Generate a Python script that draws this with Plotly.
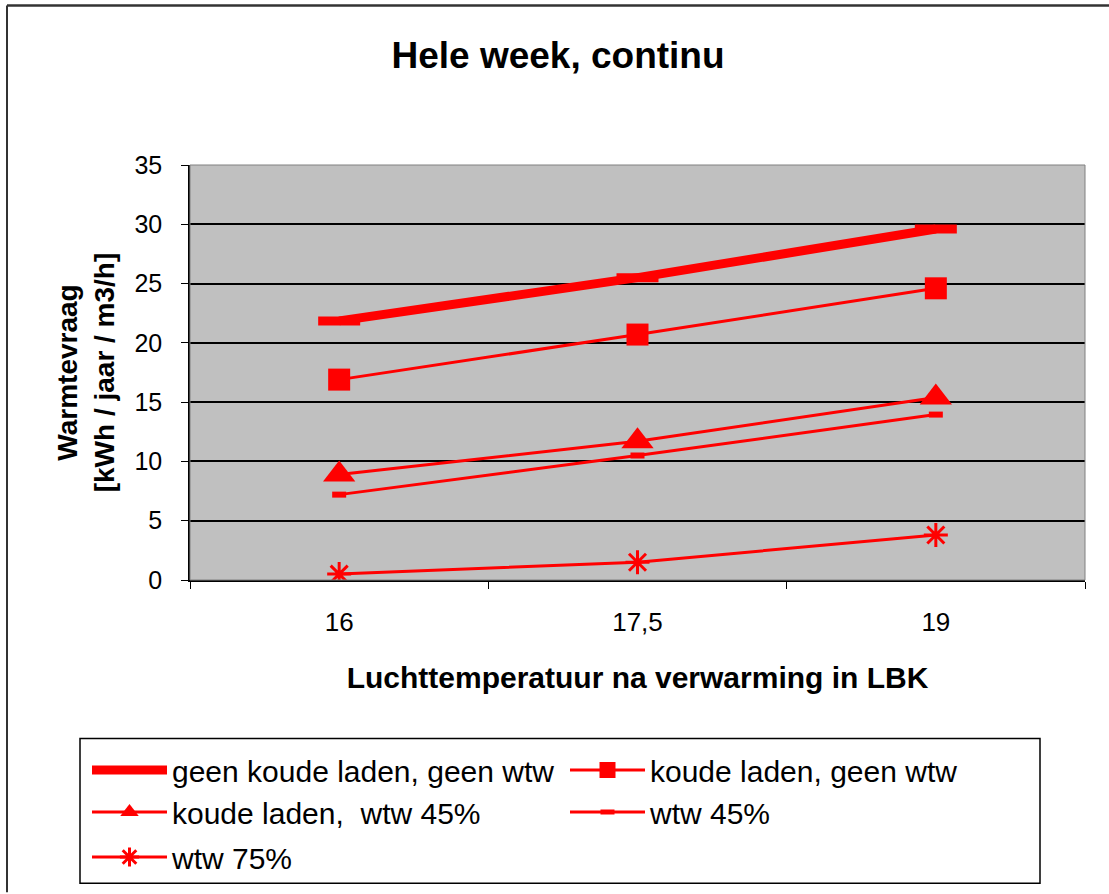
import plotly.graph_objects as go

categories = ["16", "17,5", "19"]
geen_koude_geen_wtw = [21.85, 25.5, 29.6]
koude_geen_wtw = [16.9, 20.7, 24.6]
koude_wtw45 = [8.9, 11.7, 15.4]
wtw45 = [7.2, 10.5, 13.95]
wtw75 = [0.5, 1.5, 3.8]
y_ticks = [0, 5, 10, 15, 20, 25, 30, 35]

FONT = "Liberation Sans, Arial, sans-serif"
RED = "#FF0000"
W, H = 1109, 894
L, R, T, B = 190, 1085, 165, 581  # plot area in px


def px_x(x):
    return (x - L) / (R - L)


def px_y(y):
    return (B - y) / (B - T)


fig = go.Figure()
fig.add_trace(go.Scatter(x=categories, y=geen_koude_geen_wtw, name="geen koude laden, geen wtw",
                         legend="legend", mode="lines+markers", line=dict(color=RED, width=9),
                         marker=dict(symbol="line-ew", size=30, color=RED, line=dict(color=RED, width=9))))
fig.add_trace(go.Scatter(x=categories, y=koude_geen_wtw, name="koude laden, geen wtw",
                         legend="legend", mode="lines+markers", line=dict(color=RED, width=3),
                         marker=dict(symbol="square", size=22, color=RED)))
fig.add_trace(go.Scatter(x=categories, y=koude_wtw45, name="koude laden,  wtw 45%",
                         legend="legend2", mode="lines+markers", line=dict(color=RED, width=3),
                         marker=dict(symbol="triangle-up", size=28, color=RED)))
fig.add_trace(go.Scatter(x=categories, y=wtw45, name="wtw 45%",
                         legend="legend2", mode="lines+markers", line=dict(color=RED, width=3),
                         marker=dict(symbol="line-ew", size=10, color=RED, line=dict(color=RED, width=6))))
fig.add_trace(go.Scatter(x=categories, y=wtw75, name="wtw 75%",
                         legend="legend3", mode="lines+markers", line=dict(color=RED, width=3),
                         marker=dict(symbol="asterisk-open", size=20, color=RED, line=dict(color=RED, width=3))))

leg_common = dict(orientation="h", x=px_x(87), xanchor="left",
                  yanchor="middle", entrywidth=388, entrywidthmode="pixels", itemwidth=75,
                  borderwidth=0, bgcolor="rgba(0,0,0,0)", font=dict(size=30, family=FONT, color="black"))

fig.update_layout(
    width=W, height=H,
    margin=dict(l=L, r=W - R, t=T, b=H - B),
    paper_bgcolor="white", plot_bgcolor="#C0C0C0",
    font=dict(family=FONT, color="black", size=26),
    title=dict(text="<b>Hele week, continu</b>", x=558 / W, xanchor="center", xref="container",
               y=1 - 55 / H, yanchor="middle", yref="container", font=dict(size=37, family=FONT)),
    showlegend=True,
    legend=dict(leg_common, y=px_y(770)),
    legend2=dict(leg_common, y=px_y(812)),
    legend3=dict(leg_common, y=px_y(857)),
    xaxis=dict(type="category", range=[-0.5, 2.5], showgrid=False, zeroline=False,
               showline=True, linecolor="black", linewidth=1.5,
               ticks="outside", tickson="boundaries", ticklen=7, tickcolor="black",
               ticklabelstandoff=18, tickfont=dict(size=26),
               title=dict(text="<b>Luchttemperatuur na verwarming in LBK</b>", standoff=31,
                          font=dict(size=30))),
    yaxis=dict(range=[0, 35], tickvals=y_ticks, showgrid=True, gridcolor="black", gridwidth=2,
               zeroline=False, showline=True, linecolor="black", linewidth=1.5,
               ticks="outside", ticklen=7, tickcolor="black", ticklabelstandoff=14,
               tickfont=dict(size=25),
               title=dict(text="<b>Warmtevraag<br>[kWh / jaar / m3/h]</b>", standoff=12,
                          font=dict(size=28))),
    shapes=[
        dict(type="rect", xref="paper", yref="paper", x0=0, x1=1, y0=0, y1=1,
             line=dict(color="#808080", width=1)),
        dict(type="rect", xref="paper", yref="paper",
             x0=px_x(80), x1=px_x(1040), y0=px_y(885), y1=px_y(740),
             line=dict(color="black", width=1.5)),
        dict(type="line", xref="paper", yref="paper",
             x0=px_x(7), x1=px_x(1109), y0=px_y(5), y1=px_y(5),
             line=dict(color="#333333", width=2.5)),
        dict(type="line", xref="paper", yref="paper",
             x0=px_x(7), x1=px_x(7), y0=px_y(5), y1=px_y(894),
             line=dict(color="#333333", width=2)),
    ],
)

fig.write_html("out.html", config={"displayModeBar": False},
               post_script="document.body.style.margin='0';document.body.style.padding='0';")
